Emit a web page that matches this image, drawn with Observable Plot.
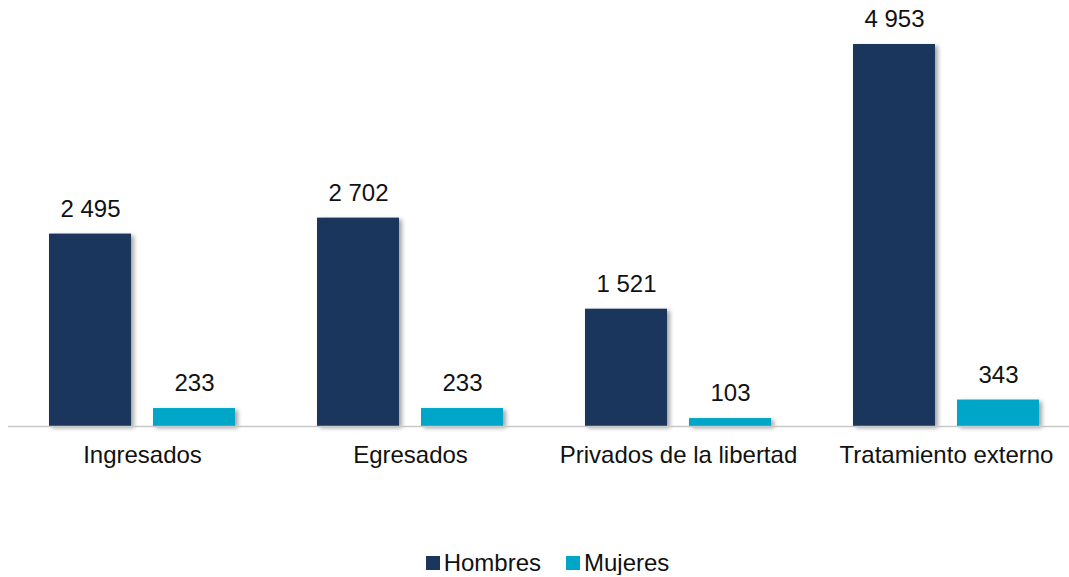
<!DOCTYPE html>
<html>
<head>
<meta charset="utf-8">
<script src="https://cdn.jsdelivr.net/npm/d3@7"></script>
<script src="https://cdn.jsdelivr.net/npm/@observablehq/plot@0.6"></script>
<style>
  body { margin: 0; background: #fff; font-family: "Liberation Sans", Arial, sans-serif; }
  #chart svg { overflow: visible; }
  #chart g[aria-label="bar"] rect { filter: drop-shadow(3px 2px 2px rgba(0,0,0,0.35)); }
  .legend { display: flex; justify-content: center; align-items: center; margin-top: 71px; font-size: 24px; line-height: 24px; color: #111; padding-left: 26px; }
  .legend span.sw { display: inline-block; width: 14px; height: 14px; margin-right: 4px; }
  .legend .item { display: flex; align-items: center; }
  .legend .item + .item { margin-left: 25px; }
</style>
</head>
<body>
<div id="chart"></div>
<script>
const categories = ["Ingresados", "Egresados", "Privados de la libertad", "Tratamiento externo"];
const series = ["Hombres", "Mujeres"];
const hombres = [2495, 2702, 1521, 4953];
const mujeres = [233, 233, 103, 343];
const colors = ["#1b365d", "#00a6c8"];

const data = [];
categories.forEach((c, i) => {
  data.push({category: c, serie: "Hombres", value: hombres[i]});
  data.push({category: c, serie: "Mujeres", value: mujeres[i]});
});
const fmt = v => d3.format(",")(v).replace(/,/g, " ");

const plot = Plot.plot({
  width: 1069,
  height: 480,
  marginTop: 44,
  marginBottom: 54,
  marginLeft: 7,
  marginRight: 0,
  style: {fontFamily: "'Liberation Sans', Arial, sans-serif", fontSize: "24px", color: "#111"},
  fx: {domain: categories, range: [7, 1080], padding: 0, label: null},
  x: {domain: series, paddingInner: 0.212, paddingOuter: 0.394, axis: null},
  y: {domain: [0, d3.max(hombres)], axis: null},
  color: {domain: series, range: colors},
  marks: [
    Plot.barY(data, {fx: "category", x: "serie", y: "value", fill: "serie"}),
    Plot.text(data, {fx: "category", x: "serie", y: "value", text: d => fmt(d.value), dy: -25, fontSize: 24, fill: "#111"}),
    Plot.ruleY([0], {stroke: "#c8c8c8", strokeWidth: 1.5, facetAnchor: null}),
    Plot.axisFx({anchor: "bottom", tickSize: 0, tickPadding: 19, fontSize: 24, label: null})
  ]
});
document.getElementById("chart").appendChild(plot);

const legend = document.createElement("div");
legend.className = "legend";
series.forEach((s, i) => {
  const item = document.createElement("div");
  item.className = "item";
  const sw = document.createElement("span");
  sw.className = "sw";
  sw.style.background = colors[i];
  item.appendChild(sw);
  item.appendChild(document.createTextNode(s));
  legend.appendChild(item);
});
document.body.appendChild(legend);
</script>
</body>
</html>
